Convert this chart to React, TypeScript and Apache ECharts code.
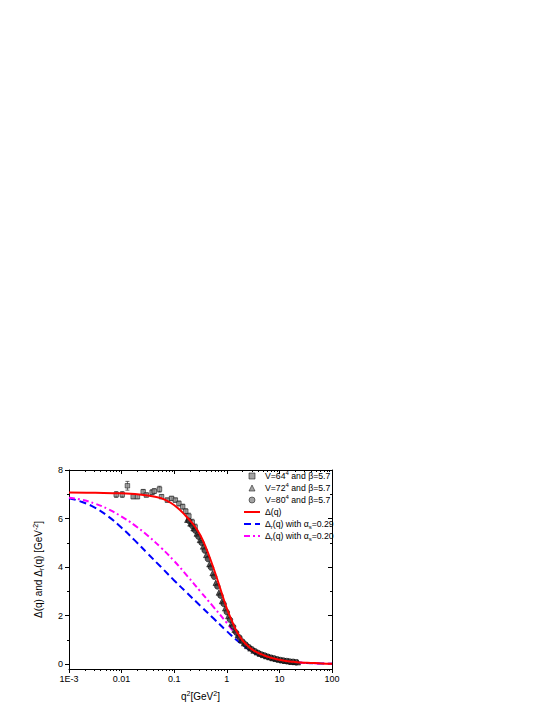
import React, { useEffect, useRef } from 'react';
import * as echarts from 'echarts';

const FONT = '"Liberation Sans", Arial, sans-serif';

// Δ(q) fit curve
const DELTA_Q2 = [0.001, 0.00316, 0.01, 0.0316, 0.0562, 0.0871, 0.126, 0.158, 0.2, 0.251, 0.316, 0.398, 0.501, 0.631, 0.794, 1.0, 1.26, 1.58, 2.0, 2.51, 3.16, 3.98, 5.01, 6.31, 7.94, 10, 12.6, 15.8, 20, 25.1, 39.8, 63.1, 100];
const DELTA_V = [7.07, 7.06, 7.04, 6.95, 6.84, 6.64, 6.37, 6.16, 5.92, 5.65, 5.3, 4.82, 4.25, 3.62, 2.95, 2.3, 1.76, 1.3, 0.97, 0.75, 0.58, 0.46, 0.37, 0.29, 0.23, 0.18, 0.14, 0.11, 0.09, 0.07, 0.05, 0.03, 0.02];

// Δr(q) with αs = 0.29
const DR029_Q2 = [0.001, 0.00178, 0.00316, 0.00562, 0.01, 0.0178, 0.0316, 0.0562, 0.1, 0.178, 0.316, 0.562, 1.0, 1.78, 3.16, 5.62, 10, 31.6, 100];
const DR029_V = [6.84, 6.68, 6.44, 6.08, 5.62, 5.1, 4.55, 4.0, 3.45, 2.92, 2.4, 1.88, 1.36, 0.88, 0.5, 0.27, 0.14, 0.05, 0.02];

// Δr(q) with αs = 0.20
const DR020_Q2 = [0.001, 0.00178, 0.00316, 0.00562, 0.01, 0.0178, 0.0316, 0.0562, 0.1, 0.178, 0.316, 0.562, 1.0, 1.78, 3.16, 5.62, 10, 31.6, 100];
const DR020_V = [6.86, 6.77, 6.61, 6.38, 6.08, 5.72, 5.29, 4.8, 4.25, 3.63, 2.99, 2.35, 1.7, 1.02, 0.52, 0.28, 0.15, 0.05, 0.02];

// Lattice V=64^4
const V64_Q2 = [0.0079, 0.0103, 0.0129, 0.0166, 0.02, 0.0257, 0.0295, 0.038, 0.0417, 0.0525, 0.0575, 0.0741, 0.0891, 0.105, 0.123, 0.145, 0.166, 0.19, 0.22, 0.25];
const V64_V = [6.99, 6.99, 7.35, 6.9, 6.9, 7.1, 6.97, 7.08, 7.13, 7.21, 6.9, 6.76, 6.83, 6.76, 6.62, 6.49, 6.3, 6.1, 5.85, 5.65];
const V64_ERR = [0.12, 0.12, 0.18, 0.08, 0.08, 0.1, 0.08, 0.1, 0.1, 0.12, 0.08, 0.08, 0.08, 0.08, 0.1, 0.1, 0.1, 0.12, 0.12, 0.12];

// Lattice V=72^4
const V72_Q2 = [0.178, 0.204, 0.234, 0.269, 0.309, 0.355, 0.407, 0.468, 0.537, 0.617, 0.708, 0.813, 0.933, 1.07, 1.23, 1.41, 1.62, 1.86, 2.14, 2.45, 2.82, 3.24, 3.72, 4.27, 4.9, 5.62, 6.46, 7.41, 8.51, 9.77, 11.2, 12.9, 14.8, 17.0, 19.5, 22.4];
const V72_V = [5.95, 5.8, 5.6, 5.38, 5.12, 4.85, 4.5, 4.12, 3.75, 3.35, 2.95, 2.6, 2.3, 1.98, 1.68, 1.42, 1.2, 1.0, 0.86, 0.75, 0.65, 0.56, 0.49, 0.43, 0.38, 0.33, 0.29, 0.25, 0.22, 0.19, 0.16, 0.14, 0.12, 0.1, 0.09, 0.08];

// Lattice V=80^4
const V80_Q2 = [0.191, 0.219, 0.251, 0.288, 0.331, 0.38, 0.437, 0.501, 0.575, 0.661, 0.759, 0.871, 1.0, 1.15, 1.32, 1.51, 1.74, 2.0, 2.29, 2.63, 3.02, 3.47, 3.98, 4.57, 5.25, 6.03, 6.92, 7.94, 9.12, 10.5, 12.0, 13.8, 15.8, 18.2, 20.9];
const V80_V = [5.9, 5.7, 5.5, 5.25, 5.0, 4.68, 4.33, 3.98, 3.6, 3.2, 2.82, 2.48, 2.14, 1.83, 1.55, 1.3, 1.1, 0.93, 0.81, 0.7, 0.61, 0.53, 0.46, 0.4, 0.36, 0.31, 0.27, 0.24, 0.2, 0.17, 0.15, 0.13, 0.11, 0.1, 0.08];

const X_DECADE_LABELS: Record<string, string> = { '-3': '1E-3', '-2': '0.01', '-1': '0.1', '0': '1', '1': '10', '2': '100' };
const Y_MAJOR = [0, 2, 4, 6, 8];
const Y_MINOR = [1, 3, 5, 7];

const LEGEND_LABELS: Record<string, string> = {
  V64: 'V=64{sup|4} and β=5.7',
  V72: 'V=72{sup|4} and β=5.7',
  V80: 'V=80{sup|4} and β=5.7',
  DELTA: 'Δ(q)',
  DR029: 'Δ{sub|r}(q) with α{sub|s}=0.29',
  DR020: 'Δ{sub|r}(q) with α{sub|s}=0.20',
};

const zip = (xs: number[], ys: number[]) => xs.map((x, i) => [x, ys[i]]);

export default function App() {
  const ref = useRef<HTMLDivElement>(null);
  useEffect(() => {
    const chart = echarts.init(ref.current!, null, { renderer: 'svg' });
    const minorLog: number[] = [];
    for (let d = -3; d < 2; d++) for (let m = 2; m <= 9; m++) minorLog.push(d + Math.log10(m));
    const errData = V64_Q2.map((x, i) => [x, V64_V[i] - V64_ERR[i], V64_V[i] + V64_ERR[i]]);
    const axisLineStyle = { color: '#000', width: 1 };
    const tickLine = { color: '#000', width: 1 };
    const rich = {
      sup: { fontSize: 6, lineHeight: 6, verticalAlign: 'top', fontFamily: FONT, color: '#000' },
      sub: { fontSize: 6, lineHeight: 6, verticalAlign: 'bottom', fontFamily: FONT, color: '#000' },
    };
    const rich10 = {
      sup: { fontSize: 7, lineHeight: 7, verticalAlign: 'top', fontFamily: FONT, color: '#000' },
      sub: { fontSize: 7, lineHeight: 7, verticalAlign: 'bottom', fontFamily: FONT, color: '#000' },
    };
    const lightScatter = { color: '#8c8c8c', borderColor: '#151515', borderWidth: 0.7 };
    const darkScatter = { color: '#2e2e2e', borderColor: '#000', borderWidth: 0.7 };
    const legendScatter = { color: '#8c8c8c', borderColor: '#151515', borderWidth: 0.7 };
    const hiddenMarker = { opacity: 0, color: 'rgba(0,0,0,0)', borderWidth: 0 };

    const option: any = {
      animation: false,
      backgroundColor: '#fff',
      grid: { left: 69, right: 221, top: 470, bottom: 46, outerBoundsMode: 'none', containLabel: false },
      legend: {
        data: [
          { name: 'V64', icon: 'path://M0,0L10,0L10,10L0,10Z', itemStyle: legendScatter },
          { name: 'V72', icon: 'path://M5,0L10,10L0,10Z', itemStyle: legendScatter },
          { name: 'V80', icon: 'path://M5,0A5,5,0,1,1,5,10A5,5,0,1,1,5,0Z', itemStyle: legendScatter },
          { name: 'DELTA', itemStyle: hiddenMarker },
          { name: 'DR029', itemStyle: hiddenMarker },
          { name: 'DR020', itemStyle: hiddenMarker },
        ],
        orient: 'vertical',
        left: 243,
        top: 470,
        padding: 0,
        itemGap: 0,
        itemWidth: 16,
        itemHeight: 6,
        symbolKeepAspect: true,
        selectedMode: false,
        itemStyle: { borderWidth: 0.7 },
        formatter: (name: string) => LEGEND_LABELS[name],
        textStyle: { fontSize: 8.7, lineHeight: 12, fontFamily: FONT, color: '#000', rich },
      },
      xAxis: [
        {
          type: 'log', logBase: 10, min: 0.001, max: 100, position: 'bottom',
          axisLine: { show: true, onZero: false, lineStyle: axisLineStyle },
          axisTick: { show: true, inside: false, length: 4, lineStyle: tickLine },
          axisLabel: {
            margin: 5, fontSize: 9, color: '#000', fontFamily: FONT,
            formatter: (v: number) => X_DECADE_LABELS[String(Math.round(Math.log10(v)))] ?? '',
          },
          splitLine: { show: false },
          name: 'q{sup|2}[GeV{sup|2}]',
          nameLocation: 'middle',
          nameGap: 21,
          nameMoveOverlap: false,
          nameTextStyle: { fontSize: 10, fontFamily: FONT, color: '#000', lineHeight: 13, rich: rich10 },
        },
        {
          type: 'value', min: -3, max: 2, position: 'bottom',
          axisLine: { show: false, onZero: false },
          axisTick: { show: true, inside: false, length: 2, customValues: minorLog, lineStyle: tickLine },
          axisLabel: { show: false },
          splitLine: { show: false },
        },
        {
          type: 'log', logBase: 10, min: 0.001, max: 100, position: 'top',
          axisLine: { show: true, onZero: false, lineStyle: axisLineStyle },
          axisTick: { show: true, inside: true, length: 4, lineStyle: tickLine },
          axisLabel: { show: false },
          splitLine: { show: false },
        },
        {
          type: 'value', min: -3, max: 2, position: 'top',
          axisLine: { show: false, onZero: false },
          axisTick: { show: true, inside: true, length: 2, customValues: minorLog, lineStyle: tickLine },
          axisLabel: { show: false },
          splitLine: { show: false },
        },
      ],
      yAxis: [
        {
          type: 'value', min: -0.2, max: 8, position: 'left',
          axisLine: { show: true, onZero: false, lineStyle: axisLineStyle },
          axisTick: { show: true, inside: false, length: 4, customValues: Y_MAJOR, lineStyle: tickLine },
          axisLabel: { margin: 6, fontSize: 9, color: '#000', fontFamily: FONT, customValues: Y_MAJOR },
          splitLine: { show: false },
          name: 'Δ(q) and Δ{sub|r}(q) [GeV{sup|-2}]',
          nameLocation: 'middle',
          nameGap: 24,
          nameMoveOverlap: false,
          nameTextStyle: { fontSize: 10, fontFamily: FONT, color: '#000', lineHeight: 13, rich: rich10 },
        },
        {
          type: 'value', min: -0.2, max: 8, position: 'left',
          axisLine: { show: false, onZero: false },
          axisTick: { show: true, inside: false, length: 2, customValues: Y_MINOR, lineStyle: tickLine },
          axisLabel: { show: false },
          splitLine: { show: false },
        },
        {
          type: 'value', min: -0.2, max: 8, position: 'right',
          axisLine: { show: true, onZero: false, lineStyle: axisLineStyle },
          axisTick: { show: true, inside: true, length: 4, customValues: Y_MAJOR, lineStyle: tickLine },
          axisLabel: { show: false },
          splitLine: { show: false },
        },
        {
          type: 'value', min: -0.2, max: 8, position: 'right',
          axisLine: { show: false, onZero: false },
          axisTick: { show: true, inside: true, length: 2, customValues: Y_MINOR, lineStyle: tickLine },
          axisLabel: { show: false },
          splitLine: { show: false },
        },
      ],
      series: [
        {
          name: 'DR029', type: 'line', xAxisIndex: 0, yAxisIndex: 0,
          data: zip(DR029_Q2, DR029_V), smooth: 0.5, symbol: 'none',
          lineStyle: { color: '#0000ff', width: 2, type: [7, 4] }, itemStyle: { color: '#0000ff' }, z: 2,
        },
        {
          name: 'DR020', type: 'line', xAxisIndex: 0, yAxisIndex: 0,
          data: zip(DR020_Q2, DR020_V), smooth: 0.5, symbol: 'none',
          lineStyle: { color: '#ff00ff', width: 2, type: [6, 3, 2, 3] }, itemStyle: { color: '#ff00ff' }, z: 2,
        },
        {
          name: 'V64err', type: 'custom', xAxisIndex: 0, yAxisIndex: 0, data: errData, silent: true, z: 3,
          encode: { x: 0, y: [1, 2] },
          renderItem: (_p: any, api: any) => {
            const x = api.value(0);
            const top = api.coord([x, api.value(2)]);
            const bot = api.coord([x, api.value(1)]);
            const c = 2;
            const style = { stroke: '#444', lineWidth: 0.8 };
            return {
              type: 'group',
              children: [
                { type: 'line', shape: { x1: top[0], y1: top[1], x2: bot[0], y2: bot[1] }, style },
                { type: 'line', shape: { x1: top[0] - c, y1: top[1], x2: top[0] + c, y2: top[1] }, style },
                { type: 'line', shape: { x1: bot[0] - c, y1: bot[1], x2: bot[0] + c, y2: bot[1] }, style },
              ],
            };
          },
        },
        {
          name: 'V64', type: 'scatter', xAxisIndex: 0, yAxisIndex: 0, data: zip(V64_Q2, V64_V),
          symbol: 'rect', symbolSize: 4.5, itemStyle: lightScatter, z: 4,
        },
        {
          name: 'V72', type: 'scatter', xAxisIndex: 0, yAxisIndex: 0, data: zip(V72_Q2, V72_V),
          symbol: 'triangle', symbolSize: 5.5, itemStyle: darkScatter, z: 4,
        },
        {
          name: 'V80', type: 'scatter', xAxisIndex: 0, yAxisIndex: 0, data: zip(V80_Q2, V80_V),
          symbol: 'circle', symbolSize: 5.5, itemStyle: darkScatter, z: 4,
        },
        {
          name: 'DELTA', type: 'line', xAxisIndex: 0, yAxisIndex: 0,
          data: zip(DELTA_Q2, DELTA_V), smooth: 0.4, symbol: 'none',
          lineStyle: { color: '#ff0000', width: 2 }, itemStyle: { color: '#ff0000' }, z: 5,
        },
      ],
    };
    chart.setOption(option);
    return () => chart.dispose();
  }, []);
  return <div ref={ref} style={{ position: 'fixed', left: 0, top: 0, width: 553, height: 715, background: '#fff' }} />;
}
